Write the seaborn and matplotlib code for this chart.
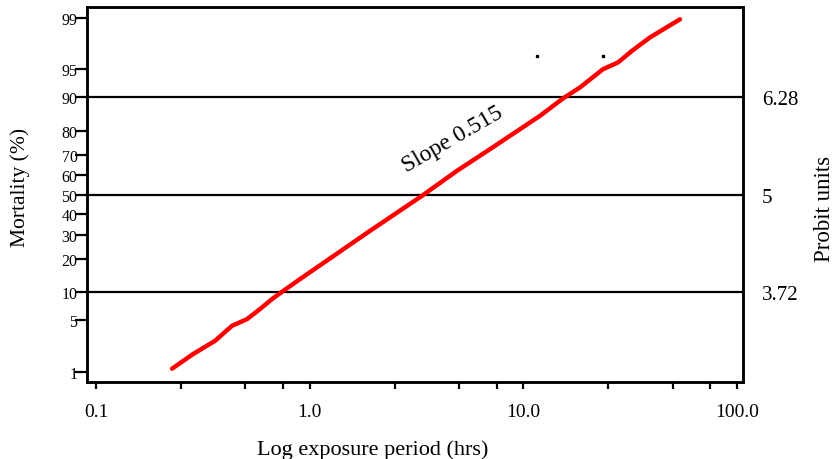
import numpy as np
import pandas as pd
import matplotlib
matplotlib.use("Agg")
import matplotlib.pyplot as plt
import seaborn as sns
from statistics import NormalDist

# ---- data ----
exposure_hrs = [0.227, 0.284, 0.361, 0.433, 0.509, 0.585, 0.666, 0.742, 0.901,
                1.915, 3.355, 4.89, 6.98, 11.96, 15.32, 18.41, 23.58, 27.71,
                32.23, 39.13, 54.06]
mortality_pct = [1.11, 1.80, 2.74, 4.24, 5.09, 6.62, 8.49, 10.08, 13.35,
                 31.7, 49.4, 62.3, 72.5, 84.98, 89.69, 92.06, 95.04, 95.88,
                 97.06, 98.06, 98.94]
stray_x = [11.58, 23.5]
stray_pct = [96.56, 96.6]

mortality_ticks = [1, 5, 10, 20, 30, 40, 50, 60, 70, 80, 90, 95, 99]
ref_lines_pct = [10, 50, 90]
probit_labels = ["3.72", "5", "6.28"]
x_ticks = [0.1, 1.0, 10.0, 100.0]
x_tick_labels = ["0.1", "1.0", "10.0", "100.0"]
x_minor = [0.25, 0.5, 0.75, 2.5, 5, 7.5, 25, 50, 75]
slope_text = "Slope 0.515"

nd = NormalDist()
def probit(p):
    return nd.inv_cdf(p / 100.0)

df = pd.DataFrame({"hrs": exposure_hrs,
                   "z": [probit(p) for p in mortality_pct]})

sns.set_style("ticks")
plt.rcParams["font.family"] = ["Liberation Serif", "DejaVu Serif"]
plt.rcParams["text.color"] = "black"
plt.rcParams["axes.labelcolor"] = "black"
plt.rcParams["xtick.color"] = "black"
plt.rcParams["ytick.color"] = "black"
plt.rcParams["axes.edgecolor"] = "black"

fig = plt.figure(figsize=(8.37, 4.60), dpi=100)
ax = fig.add_axes([86.7 / 837, 1 - 383.3 / 460, (743 - 86.7) / 837, (383.3 - 8) / 460])

zlim = 2.466
# reference lines
for p in ref_lines_pct:
    ax.axhline(probit(p), color="black", lw=1.6, zorder=2)

sns.lineplot(data=df, x="hrs", y="z", ax=ax, color="#ff0000", lw=3.2,
             sort=False, estimator=None, zorder=3)
ax.plot(stray_x, [probit(p) for p in stray_pct], ls="none", marker="s",
        ms=2, color="black")

ax.set_xscale("log")
ax.set_xlim(0.0905, 106.6)
ax.set_ylim(-zlim, zlim)

ax.set_xticks(x_ticks)
ax.set_xticklabels(x_tick_labels, fontsize=14)
ax.set_xticks(x_minor, minor=True)
ax.xaxis.set_minor_formatter(matplotlib.ticker.NullFormatter())
ax.tick_params(axis="x", which="both", direction="out", length=5, width=1.6,
               pad=10, color="black", labelcolor="black")

ax.set_yticks([probit(p) for p in mortality_ticks])
ax.set_yticklabels([str(p) for p in mortality_ticks], fontsize=11.5)
ax.tick_params(axis="y", which="both", direction="out", length=8.6, width=1.6,
               pad=-2, color="black", labelcolor="black")

for s in ax.spines.values():
    s.set_linewidth(1.8)
    s.set_color("black")
    s.set_visible(True)

ax.set_xlabel("Log exposure period (hrs)", fontsize=16, color="black")
ax.xaxis.set_label_coords(0.435, -0.151)
ax.set_ylabel("Mortality (%)", fontsize=15.5, color="black")
ax.yaxis.set_label_coords(-0.086, 0.523)

ax2 = ax.twinx()
ax2.set_ylim(-zlim, zlim)
ax2.set_yticks([probit(p) for p in ref_lines_pct])
ax2.set_yticklabels(probit_labels, fontsize=15)
ax2.tick_params(axis="y", length=0, pad=13.5, labelcolor="black")
for s in ax2.spines.values():
    s.set_linewidth(1.8)
    s.set_color("black")
ax2.set_ylabel("Probit units", fontsize=16.5, rotation=90, color="black")
ax2.yaxis.set_label_coords(1.108, 0.464)

ax.text(4.64, 0.729, slope_text, rotation=30, rotation_mode="anchor",
        ha="center", va="center", fontsize=17, color="black")

fig.savefig("out.png", dpi=100)
